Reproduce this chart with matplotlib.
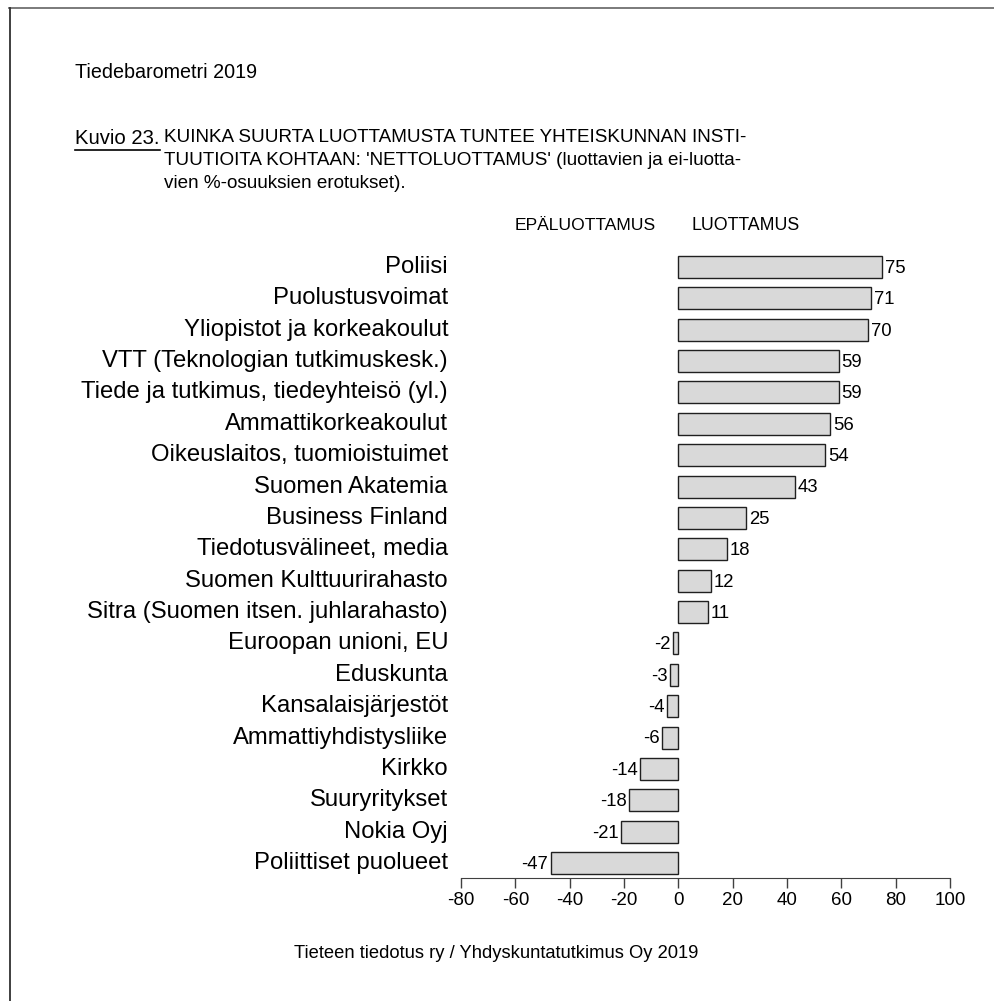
import matplotlib
matplotlib.use("Agg")
import matplotlib.pyplot as plt
from matplotlib.lines import Line2D
from matplotlib import font_manager

categories = ["Poliisi", "Puolustusvoimat", "Yliopistot ja korkeakoulut",
              "VTT (Teknologian tutkimuskesk.)", "Tiede ja tutkimus, tiedeyhteisö (yl.)",
              "Ammattikorkeakoulut", "Oikeuslaitos, tuomioistuimet", "Suomen Akatemia",
              "Business Finland", "Tiedotusvälineet, media", "Suomen Kulttuurirahasto",
              "Sitra (Suomen itsen. juhlarahasto)", "Euroopan unioni, EU", "Eduskunta",
              "Kansalaisjärjestöt", "Ammattiyhdistysliike", "Kirkko", "Suuryritykset",
              "Nokia Oyj", "Poliittiset puolueet"]
values = [75, 71, 70, 59, 59, 56, 54, 43, 25, 18, 12, 11, -2, -3, -4, -6, -14, -18, -21, -47]
xticks = [-80, -60, -40, -20, 0, 20, 40, 60, 80, 100]

avail = {f.name for f in font_manager.fontManager.ttflist}
narrow = "Liberation Sans Narrow" if "Liberation Sans Narrow" in avail else "Liberation Sans"
plt.rcParams['font.family'] = ['Liberation Sans', 'DejaVu Sans']

W, H = 995, 1001
fig = plt.figure(figsize=(W / 100, H / 100), dpi=100)

n = len(categories)
step = (863 - 267) / (n - 1)
ytop = -0.6
ybot = (878 - 863) / step + (n - 1)
top_px = 267 + ytop * step
ax = fig.add_axes([461 / W, 1 - 878 / H, (950 - 461) / W, (878 - top_px) / H])
ypos = list(range(n))
ax.barh(ypos, values, height=0.7, color="#d9d9d9", edgecolor="#202020", linewidth=1.0)
ax.set_xlim(-80, 100)
ax.set_ylim(ybot, ytop)
for s in ["top", "right", "left"]:
    ax.spines[s].set_visible(False)
ax.spines["bottom"].set_color("#404040")
ax.set_xticks(xticks)
ax.set_xticklabels([str(t) for t in xticks], fontsize=13.5)
ax.tick_params(axis="x", length=7, width=1, color="#404040", pad=3)
ax.set_yticks(ypos)
ax.set_yticklabels([])
ax.tick_params(axis="y", length=0)
for y, c in zip(ypos, categories):
    ax.annotate(c, xy=(0, y), xycoords=("figure pixels", "data"), xytext=(448, 0),
                textcoords=("figure pixels", "offset points"), ha="right", va="center",
                fontsize=17.2)

for y, v in zip(ypos, values):
    if v >= 0:
        ax.annotate(str(v), xy=(v, y), xytext=(2, -1), textcoords="offset points",
                    ha="left", va="center", fontsize=13.3)
    else:
        ax.annotate(str(v), xy=(v, y), xytext=(-2, -1), textcoords="offset points",
                    ha="right", va="center", fontsize=13.3)

# header labels
fig.text(585 / W, 1 - 226 / H, "EPÄLUOTTAMUS", family=narrow, fontsize=12.6, ha="center", va="center")
fig.text(692 / W, 1 - 226 / H, "LUOTTAMUS", family=narrow, fontsize=12.8, ha="left", va="center")

# titles
fig.text(75 / W, 1 - 72 / H, "Tiedebarometri 2019", fontsize=14.2, ha="left", va="center")
fig.text(75 / W, 1 - 139 / H, "Kuvio 23.", family=narrow, fontsize=14.6, ha="left", va="center")
fig.add_artist(Line2D([75 / W, 160 / W], [1 - 150 / H, 1 - 150 / H], color="black", lw=1.2))
title_lines = ["KUINKA SUURTA LUOTTAMUSTA TUNTEE YHTEISKUNNAN INSTI-",
               "TUUTIOITA KOHTAAN: 'NETTOLUOTTAMUS' (luottavien ja ei-luotta-",
               "vien %-osuuksien erotukset)."]
for i, t in enumerate(title_lines):
    fig.text(164 / W, 1 - (137 + i * 23.5) / H, t, fontsize=13.6, ha="left", va="center")

fig.text(496 / W, 1 - 954 / H, "Tieteen tiedotus ry / Yhdyskuntatutkimus Oy 2019",
         fontsize=13.2, ha="center", va="center")

# border (top and left)
fig.add_artist(Line2D([9 / W, 1], [1 - 7.5 / H, 1 - 7.5 / H], color="#707070", lw=1.3))
fig.add_artist(Line2D([9.5 / W, 9.5 / W], [0, 1 - 7.5 / H], color="#303030", lw=1.3))

fig.savefig("out.png", dpi=100, facecolor="white")
